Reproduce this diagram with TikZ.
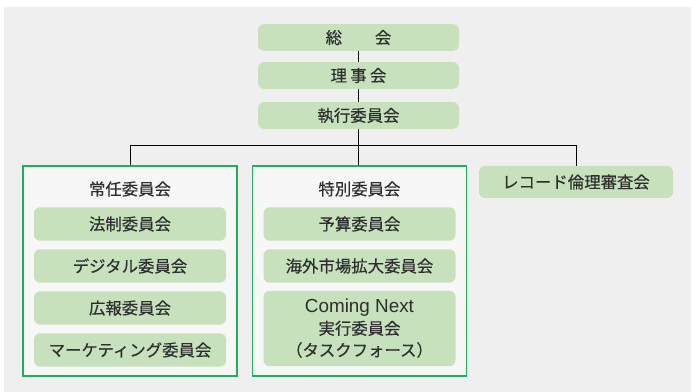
\documentclass[tikz,border=0pt]{standalone}
\usepackage{fontspec}
\setmainfont{Noto Sans CJK JP}[FakeBold=0.3]
\newfontfamily\latinfont{Liberation Sans}[Scale=1.15]
\definecolor{bggray}{HTML}{EEEFEE}
\definecolor{boxgreen}{HTML}{C6E1BB}
\definecolor{edgegreen}{HTML}{1FAF5A}
\definecolor{innerbg}{HTML}{F7F7F7}
\definecolor{txt}{HTML}{2E2E2E}
\tikzset{
  gbox/.style={fill=boxgreen, draw=none, rounded corners=4.5pt, text=txt, font=\fontsize{12.3}{16.3}\selectfont, align=center, inner sep=0pt},
  groupbox/.style={fill=innerbg, draw=edgegreen, line width=0.8pt},
  conn/.style={draw=black, line width=0.75pt},
  ttl/.style={text=txt, font=\fontsize{12.3}{16.3}\selectfont, inner sep=0pt}
}
\begin{document}
\begin{tikzpicture}[x=0.75pt,y=-0.75pt]
\useasboundingbox (0,0) rectangle (694,392);
\fill[white] (0,0) rectangle (694,392);
\fill[bggray] (4,7) rectangle (691,392);
% top boxes
\node[gbox, minimum width=150.75pt, minimum height=20pt] (sokai) at (358.5,37.5) {総\hspace{2em}会};
\node[gbox, minimum width=150.75pt, minimum height=20pt] (riji) at (358.5,75.5) {理\hspace{0.2em}事\hspace{0.2em}会};
\node[gbox, minimum width=150.75pt, minimum height=20pt] (shikko) at (358.5,115.5) {執行委員会};
% group boxes
\node[groupbox, minimum width=160.5pt, minimum height=157.5pt, inner sep=0pt] (jonin) at (130,271) {};
\node[groupbox, minimum width=160.5pt, minimum height=157.5pt, inner sep=0pt] (tokubetsu) at (359.5,271) {};
\node[gbox, minimum width=145.5pt, minimum height=24pt] (record) at (576,182) {レコード倫理審査会};
\node[ttl] (jonint) at (130,189) {常任委員会};
\node[ttl] (tokut) at (359.5,189) {特別委員会};
% inner boxes left
\node[gbox, minimum width=144pt, minimum height=25pt] (hosei) at (130,224) {法制委員会};
\node[gbox, minimum width=144pt, minimum height=25pt] (digital) at (130,266) {デジタル委員会};
\node[gbox, minimum width=144pt, minimum height=25pt] (koho) at (130,308) {広報委員会};
\node[gbox, minimum width=144pt, minimum height=25pt] (marketing) at (130,350) {マーケティング委員会};
% inner boxes right
\node[gbox, minimum width=144pt, minimum height=25pt] (yosan) at (359.5,224) {予算委員会};
\node[gbox, minimum width=144pt, minimum height=25pt] (kaigai) at (359.5,266) {海外市場拡大委員会};
\node[gbox, minimum width=144pt, minimum height=56.5pt] (coming) at (359.5,328.5) {{\latinfont Coming Next}\\実行委員会\\（タスクフォース）};
% connectors
\coordinate (bus) at (358.5,145.5);
\draw[conn] (sokai.south) -- (riji.north);
\draw[conn] (riji.south) -- (shikko.north);
\draw[conn] (shikko.south) -- (bus);
\draw[conn] (jonin.north -| bus) -- (bus);
\draw[conn] (jonin.north) |- (bus) -| (record.north);
\end{tikzpicture}
\end{document}
